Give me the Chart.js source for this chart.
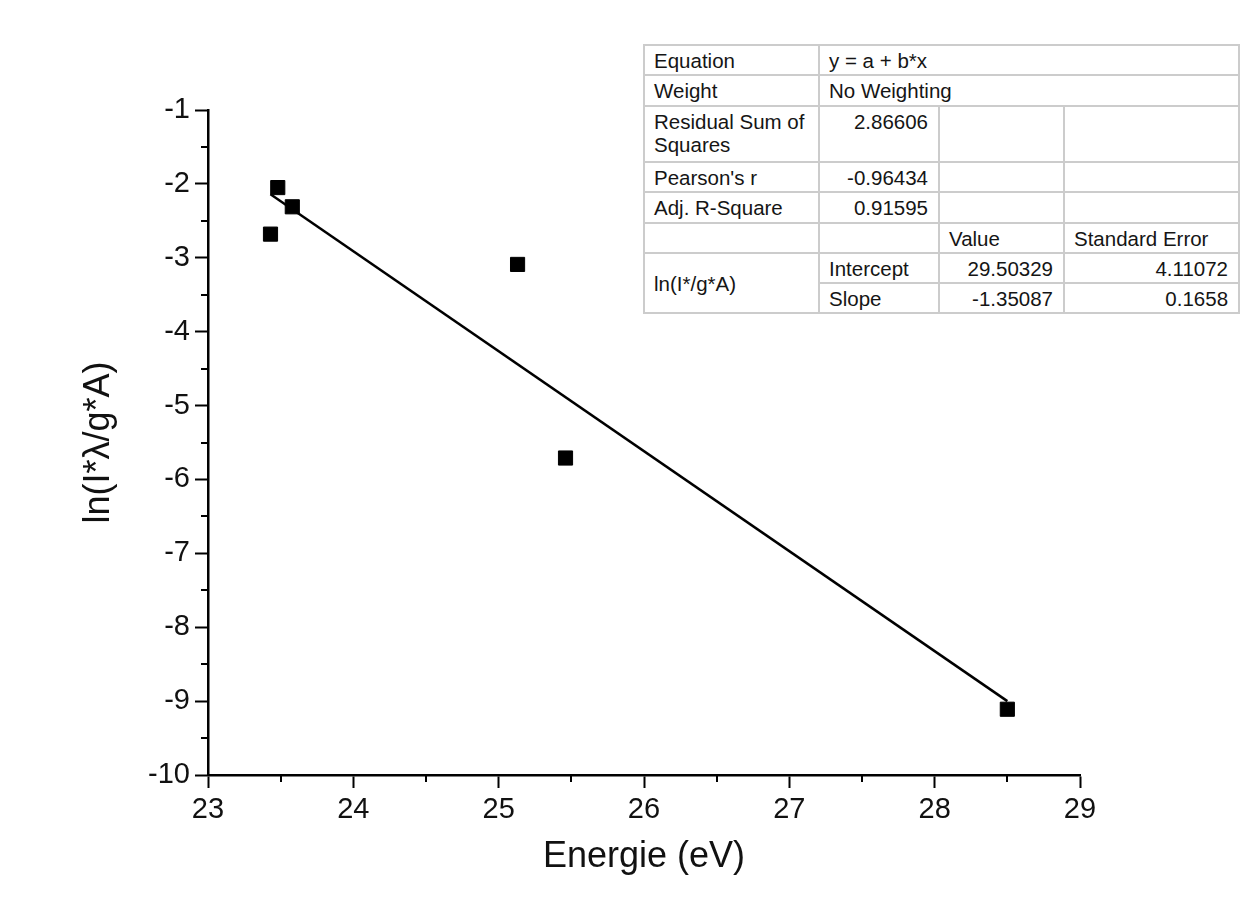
<!DOCTYPE html>
<html>
<head>
<meta charset="utf-8">
<script src="https://cdn.jsdelivr.net/npm/chart.js@4/dist/chart.umd.min.js"></script>
<style>
    html, body { margin: 0; padding: 0; background: #fff; }
    #wrap { position: relative; width: 1240px; height: 913px; }
    #chart { position: absolute; left: 0; top: 0; }
    #fit-table {
        position: absolute; left: 643px; top: 44px;
        width: 595px; border-collapse: collapse; table-layout: fixed;
        font-family: "Liberation Sans", Arial, sans-serif; font-size: 20.5px; color: #151515;
        border: 2px solid #6a6a6a; background: #fff;
    }
    #fit-table td {
        border: 2px solid #cccccc; padding: 3px 9px 0 9px;
        vertical-align: top; white-space: nowrap; line-height: 23px; overflow: hidden;
    }
    #fit-table td.num { text-align: right; padding-right: 10px; }
    #fit-table td.mid { vertical-align: middle; padding-top: 0; }
</style>
</head>
<body>
<div id="wrap">
    <canvas id="chart" width="1240" height="913"></canvas>
    <table id="fit-table">
        <colgroup>
            <col style="width:175px"><col style="width:120px"><col style="width:125px"><col style="width:175px">
        </colgroup>
        <tbody id="fit-body"></tbody>
    </table>
</div>
<script>
(function () {
    // measured points (Energie in eV, ln(I*lambda/g*A))
    const energy = [23.43, 23.48, 23.58, 25.13, 25.46, 28.50];
    const lnIntensity = [-2.68, -2.05, -2.31, -3.09, -5.71, -9.11];

    // fitted line end points
    const fitX = [23.43, 28.50];
    const fitY = [-2.14, -9.00];

    const xTicks = [23, 24, 25, 26, 27, 28, 29];
    const yTicks = [-1, -2, -3, -4, -5, -6, -7, -8, -9, -10];

    // fit report table
    const tableRows = [
        ['Equation', 'y = a + b*x'],
        ['Weight', 'No Weighting'],
        ['Residual Sum of Squares', '2.86606', '', ''],
        ["Pearson's r", '-0.96434', '', ''],
        ['Adj. R-Square', '0.91595', '', ''],
        ['', '', 'Value', 'Standard Error'],
        ['ln(I*/g*A)', 'Intercept', '29.50329', '4.11072'],
        ['', 'Slope', '-1.35087', '0.1658']
    ];
    const rowHeights = [30, 31, 56, 30, 31, 30, 30, 30];

    const body = document.getElementById('fit-body');
    tableRows.forEach((row, i) => {
        const tr = document.createElement('tr');
        tr.style.height = rowHeights[i] + 'px';
        const add = (text, cls, span, rowspan) => {
            const td = document.createElement('td');
            td.textContent = text;
            if (cls) td.className = cls;
            if (span) td.colSpan = span;
            if (rowspan) td.rowSpan = rowspan;
            tr.appendChild(td);
            return td;
        };
        if (row.length === 2) {
            add(row[0]);
            add(row[1], '', 3);
        } else if (i === 2) {
            const td = add('');
            td.innerHTML = 'Residual Sum of<br>Squares';
            add(row[1], 'num'); add(''); add('');
        } else if (i === 6) {
            add(row[0], 'mid', 1, 2);
            add(row[1]); add(row[2], 'num'); add(row[3], 'num');
        } else if (i === 7) {
            add(row[1]); add(row[2], 'num'); add(row[3], 'num');
        } else if (i === 5) {
            add(''); add(''); add(row[2]); add(row[3]);
        } else {
            add(row[0]); add(row[1], 'num'); add(row[2]); add(row[3]);
        }
        body.appendChild(tr);
    });

    const fontFamily = '"Liberation Sans", Arial, sans-serif';

    // short minor ticks halfway between the labelled ones
    const minorTicks = {
        id: 'minorTicks',
        afterDraw(chart) {
            const ctx = chart.ctx;
            const xs = chart.scales.x;
            const ys = chart.scales.y;
            ctx.save();
            ctx.strokeStyle = '#000';
            ctx.lineWidth = 2;
            ctx.beginPath();
            for (let i = 0; i < xTicks.length - 1; i++) {
                const px = Math.round(xs.getPixelForValue((xTicks[i] + xTicks[i + 1]) / 2));
                ctx.moveTo(px, ys.bottom);
                ctx.lineTo(px, ys.bottom + 7);
            }
            for (let i = 0; i < yTicks.length - 1; i++) {
                const py = Math.round(ys.getPixelForValue((yTicks[i] + yTicks[i + 1]) / 2));
                ctx.moveTo(xs.left, py);
                ctx.lineTo(xs.left - 7, py);
            }
            ctx.stroke();
            ctx.restore();
        }
    };

    new Chart(document.getElementById('chart'), {
        type: 'scatter',
        data: {
            datasets: [
                {
                    label: 'data',
                    data: energy.map((x, i) => ({ x: x, y: lnIntensity[i] })),
                    pointStyle: 'rect',
                    pointRadius: 10,
                    pointBackgroundColor: '#000',
                    pointBorderColor: '#000',
                    pointBorderWidth: 1,
                    order: 0
                },
                {
                    label: 'fit',
                    data: fitX.map((x, i) => ({ x: x, y: fitY[i] })),
                    showLine: true,
                    borderColor: '#000',
                    borderWidth: 2.5,
                    pointRadius: 0,
                    order: 1
                }
            ]
        },
        options: {
            responsive: false,
            animation: false,
            layout: { padding: { top: 110, right: 160, left: 0, bottom: 0 } },
            plugins: { legend: { display: false }, tooltip: { enabled: false } },
            scales: {
                x: {
                    type: 'linear', min: 23, max: 29,
                    afterFit(scale) { scale.height = 138; },
                    afterBuildTicks(scale) { scale.ticks = xTicks.map(v => ({ value: v })); },
                    grid: { drawOnChartArea: false, drawTicks: true, tickLength: 13, tickColor: '#000', tickWidth: 2 },
                    border: { display: true, color: '#000', width: 2.5 },
                    ticks: { color: '#111', padding: 5, font: { family: fontFamily, size: 29 } },
                    title: {
                        display: true, text: 'Energie (eV)', color: '#111',
                        font: { family: fontFamily, size: 36 }, padding: { top: 0, bottom: 34 }
                    }
                },
                y: {
                    type: 'linear', min: -10, max: -1,
                    afterFit(scale) { scale.width = 208; },
                    afterBuildTicks(scale) { scale.ticks = yTicks.map(v => ({ value: v })); },
                    grid: { drawOnChartArea: false, drawTicks: true, tickLength: 13, tickColor: '#000', tickWidth: 2 },
                    border: { display: true, color: '#000', width: 2.5 },
                    ticks: { color: '#111', padding: 5, font: { family: fontFamily, size: 29 } },
                    title: {
                        display: true, text: 'ln(I*λ/g*A)', color: '#111',
                        font: { family: fontFamily, size: 36 }, padding: { top: 77, bottom: 0 }
                    }
                }
            }
        },
        plugins: [minorTicks]
    });
})();
</script>
</body>
</html>
